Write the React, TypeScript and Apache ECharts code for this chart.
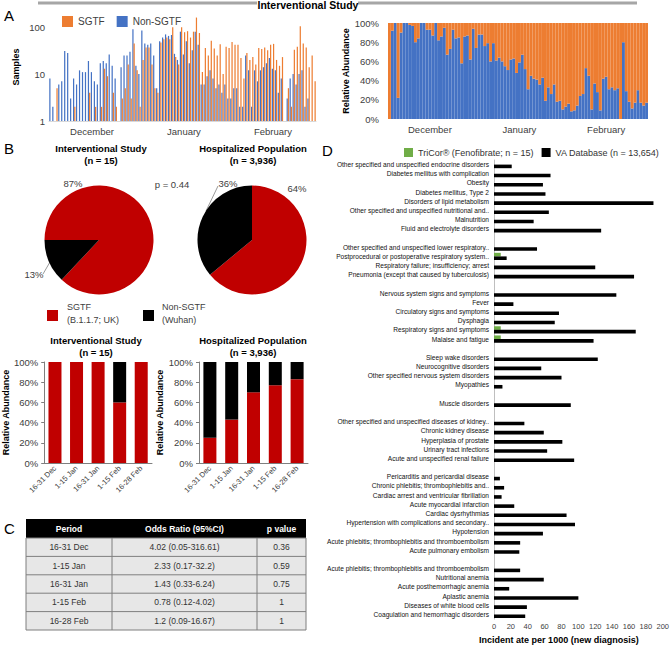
import React, { useEffect, useRef } from 'react';
import * as echarts from 'echarts';

// ---------- Panel A data ----------
const months = ['Dec', 'Jan', 'Feb'];
const monthDays = [31, 31, 28];
const monthTickLabels = ['December', 'January', 'February'];
const monthTickIndex = [14, 45, 75];

const nonSgtfDaily = [
  8, 2, 0, 6, 7, 31, 28, 3, 8, 6, 12, 11, 11, 19, 11, 7, 6, 17, 19, 17, 26, 15, 8, 0, 14, 25, 25, 30, 90, 15, 10,
  85, 45, 42, 45, 25, 5, 50, 60, 70, 65, 68, 27, 20, 80, 26, 50, 17, 32, 80, 42, 6, 6, 9, 12, 8, 5, 6, 4, 6, 3, 3,
  5, 5, 2, 2, 25, 12, 2, 12, 7, 12, 14, 17, 22, 13, 12, 4, 8, 0, 3, 8, 10, 6, 10, 12, 2, 3, 0, 0,
];
const sgtfDaily = [
  0, 0, 5, 0, 0, 0, 0, 0, 2, 0, 0, 0, 0, 4, 0, 2, 0, 2, 13, 9, 0, 4, 2, 0, 3, 5, 16, 3, 45, 12, 2,
  20, 37, 37, 16, 5, 4, 47, 55, 60, 55, 100, 23, 16, 100, 78, 82, 60, 80, 160, 75, 11, 36, 25, 51, 35, 25, 43, 10, 38, 36, 48,
  42, 42, 22, 8, 28, 20, 23, 16, 36, 34, 37, 32, 42, 44, 20, 15, 23, 0, 5, 2, 33, 38, 105, 45, 37, 14, 25, 7,
];
const nonSgtfPctDaily = [
  0, 92, 100, 22, 90, 100, 100, 98, 97, 80, 84, 100, 100, 93, 93, 87, 100, 82, 86, 95, 67, 73, 93, 84, 85, 58, 86, 87, 62, 94,
  74, 88, 88, 76, 79, 60, 79, 61, 64, 60, 55, 51, 62, 63, 48, 59, 67, 52, 31, 45, 42, 41, 36, 43, 19, 33, 26, 36, 18, 19,
  10, 13, 16, 8, 9, 14, 24, 26, 53, 45, 10, 37, 28, 9, 42, 44, 31, 33, 30, 32, 0, 80, 29, 18, 11, 17, 30, 17, 14, 17,
];

// ---------- Panel B data ----------
const interventionalPie = [87, 13]; // SGTF, Non-SGTF
const hospitalizedPie = [64, 36];
const pValueText = 'p = 0.44';
const periods = ['16-31 Dec', '1-15 Jan', '16-31 Jan', '1-15 Feb', '16-28 Feb'];
const interventionalSgtfPct = [100, 100, 100, 60, 100];
const hospitalizedSgtfPct = [25, 43, 70, 77, 83];

// ---------- Panel C data ----------
const tableHeader = ['Period', 'Odds Ratio (95%CI)', 'p value'];
const tablePeriods = ['16-31 Dec', '1-15 Jan', '16-31 Jan', '1-15 Feb', '16-28 Feb'];
const tableOdds = ['4.02 (0.05-316.61)', '2.33 (0.17-32.2)', '1.43 (0.33-6.24)', '0.78 (0.12-4.02)', '1.2 (0.09-16.67)'];
const tablePValues = ['0.36', '0.59', '0.75', '1', '1'];

// ---------- Panel D data ----------
const diagnoses = [
  'Other specified and unspecified endocrine disorders', 'Diabetes mellitus with complication', 'Obesity',
  'Diabetes mellitus, Type 2', 'Disorders of lipid metabolism', 'Other specified and unspecified nutritional and..',
  'Malnutrition', 'Fluid and electrolyte disorders', '',
  'Other specified and unspecified lower respiratory..', 'Postprocedural or postoperative respiratory system..',
  'Respiratory failure; insufficiency; arrest', 'Pneumonia (except that caused by tuberculosis)', '',
  'Nervous system signs and symptoms', 'Fever', 'Circulatory signs and symptoms', 'Dysphagia',
  'Respiratory signs and symptoms', 'Malaise and fatigue', '',
  'Sleep wake disorders', 'Neurocognitive disorders', 'Other specified nervous system disorders', 'Myopathies', '',
  'Muscle disorders', '',
  'Other specified and unspecified diseases of kidney..', 'Chronic kidney disease', 'Hyperplasia of prostate',
  'Urinary tract infections', 'Acute and unspecified renal failure', '',
  'Pericarditis and pericardial disease', 'Chronic phlebitis; thrombophlebitis and..',
  'Cardiac arrest and ventricular fibrillation', 'Acute myocardial infarction', 'Cardiac dysrhythmias',
  'Hypertension with complications and secondary..', 'Hypotension',
  'Acute phlebitis; thrombophlebitis and thromboembolism', 'Acute pulmonary embolism', '',
  'Acute phlebitis; thrombophlebitis and thromboembolism', 'Nutritional anemia', 'Acute posthemorrhagic anemia',
  'Aplastic anemia', 'Diseases of white blood cells', 'Coagulation and hemorrhagic disorders',
];
const vaRates = [
  21, 67, 58, 61, 189, 65, 47, 127, null,
  51, 15, 120, 166, null,
  145, 23, 77, 72, 168, 118, null,
  123, 56, 80, 10, null,
  91, null,
  36, 59, 81, 63, 95, null,
  7, 12, 9, 24, 86, 96, 58, 31, 30, null,
  31, 59, 18, 100, 39, 37,
];
const tricorRates = [
  null, null, null, null, null, null, null, null, null,
  null, 8, null, null, null,
  null, null, null, null, 8, 8, null,
  null, null, null, null, null,
  null, null,
  null, null, null, null, null, null,
  null, null, null, null, null, null, null, null, null, null,
  null, null, null, null, null, null,
];

const FONT = "'Liberation Sans', Arial, Helvetica, sans-serif";
const BLUE = '#4472C4';
const ORANGE = '#ED7D31';
const RED = '#C00000';
const GREEN = '#70AD47';
const TRICOR = 'TriCor® (Fenofibrate; n = 15)';
const VA = 'VA Database (n = 13,654)';

const dates: string[] = [];
months.forEach((m, i) => {
  for (let d = 1; d <= monthDays[i]; d++) dates.push(`${d} ${m}`);
});

const txt = (text: string, x: number, y: number, o: any = {}) => ({
  type: 'text',
  x,
  y,
  silent: true,
  style: {
    text,
    fill: o.fill || '#000',
    fontSize: o.size || 9,
    fontWeight: o.bold ? 'bold' : 'normal',
    fontFamily: FONT,
    align: o.align || 'center',
    verticalAlign: 'middle',
  },
});

function buildGraphic() {
  const g: any[] = [];
  // Top banner
  g.push({ type: 'line', shape: { x1: 38, y1: 3, x2: 257, y2: 3 }, style: { stroke: '#a6a6a6', lineWidth: 3 } });
  g.push({ type: 'line', shape: { x1: 358, y1: 3, x2: 637, y2: 3 }, style: { stroke: '#a6a6a6', lineWidth: 3 } });
  g.push(txt('Interventional Study', 308, 5, { bold: true, size: 10.5 }));
  // Panel letters
  g.push(txt('A', 4, 15, { size: 15, align: 'left' }));
  g.push(txt('B', 4, 148, { size: 15, align: 'left' }));
  g.push(txt('C', 4, 528, { size: 15, align: 'left' }));
  g.push(txt('D', 322, 150, { size: 15, align: 'left' }));
  // Pie titles
  g.push(txt('Interventional Study', 101, 148, { bold: true, size: 9.5 }));
  g.push(txt(`(n = 15)`, 101, 160, { bold: true, size: 9.5 }));
  g.push(txt('Hospitalized Population', 253, 148, { bold: true, size: 9.5 }));
  g.push(txt(`(n = 3,936)`, 253, 160, { bold: true, size: 9.5 }));
  g.push(txt(pValueText, 172, 184, { size: 9.5, fill: '#404040' }));
  // Pie labels
  g.push(txt(`${interventionalPie[0]}%`, 73, 183, { size: 9.5, fill: '#404040' }));
  g.push(txt(`${interventionalPie[1]}%`, 34, 274, { size: 9.5, fill: '#404040' }));
  g.push({ type: 'line', shape: { x1: 43, y1: 274, x2: 50, y2: 262 }, style: { stroke: '#808080', lineWidth: 0.8 } });
  g.push(txt(`${hospitalizedPie[1]}%`, 228, 183, { size: 9.5, fill: '#404040' }));
  g.push({ type: 'line', shape: { x1: 218, y1: 186, x2: 206, y2: 211 }, style: { stroke: '#808080', lineWidth: 0.8 } });
  g.push(txt(`${hospitalizedPie[0]}%`, 297, 188, { size: 9.5, fill: '#404040' }));
  // Legend B
  g.push({ type: 'rect', shape: { x: 47, y: 310, width: 11, height: 11 }, style: { fill: RED } });
  g.push(txt('SGTF', 67, 307, { size: 9, fill: '#404040', align: 'left' }));
  g.push(txt('(B.1.1.7; UK)', 67, 320, { size: 9, fill: '#404040', align: 'left' }));
  g.push({ type: 'rect', shape: { x: 143, y: 310, width: 11, height: 11 }, style: { fill: '#000' } });
  g.push(txt('Non-SGTF', 162, 307, { size: 9, fill: '#404040', align: 'left' }));
  g.push(txt('(Wuhan)', 162, 320, { size: 9, fill: '#404040', align: 'left' }));
  // Bar chart titles B
  g.push(txt('Interventional Study', 96, 340, { bold: true, size: 9.5 }));
  g.push(txt('(n = 15)', 96, 352, { bold: true, size: 9.5 }));
  g.push(txt('Hospitalized Population', 253, 340, { bold: true, size: 9.5 }));
  g.push(txt('(n = 3,936)', 253, 352, { bold: true, size: 9.5 }));
  // Table C
  const tx = 26, tw = 280, hy = 519, hh = 19, rh = 18.4;
  const colX = [26, 112, 257, 306];
  g.push({ type: 'rect', shape: { x: tx, y: hy, width: tw, height: hh }, style: { fill: '#000' } });
  const bodyTop = hy + hh;
  g.push({
    type: 'rect',
    shape: { x: tx, y: bodyTop, width: tw, height: rh * tablePeriods.length },
    style: { fill: '#E7E7E7', stroke: '#7f7f7f', lineWidth: 1 },
  });
  for (let i = 1; i < tablePeriods.length; i++) {
    const y = bodyTop + rh * i;
    g.push({ type: 'line', shape: { x1: tx, y1: y, x2: tx + tw, y2: y }, style: { stroke: '#7f7f7f', lineWidth: 1 } });
  }
  [colX[1], colX[2]].forEach((x) => {
    g.push({
      type: 'line',
      shape: { x1: x, y1: bodyTop, x2: x, y2: bodyTop + rh * tablePeriods.length },
      style: { stroke: '#7f7f7f', lineWidth: 1 },
    });
  });
  tableHeader.forEach((h, j) => {
    g.push(txt(h, (colX[j] + colX[j + 1]) / 2, hy + hh / 2, { bold: true, size: 8.5, fill: '#fff' }));
  });
  tablePeriods.forEach((p, i) => {
    const y = bodyTop + rh * i + rh / 2;
    const row = [p, tableOdds[i], tablePValues[i]];
    row.forEach((c, j) => g.push(txt(c, (colX[j] + colX[j + 1]) / 2, y, { size: 8.5, fill: '#333' })));
  });
  return g;
}

const labelStyle = { fontFamily: FONT, color: '#404040' };

function buildOption(): any {
  const pctB = (arr: number[]) => arr.map((v) => 100 - v);
  return {
    animation: false,
    textStyle: { fontFamily: FONT },
    grid: [
      { left: 49, top: 13, width: 267, height: 108 },
      { left: 388, top: 23, width: 260, height: 96 },
      { left: 43, top: 362, width: 109, height: 101 },
      { left: 199, top: 362, width: 109, height: 101 },
      { left: 494, top: 160, width: 169, height: 462 },
    ],
    legend: [
      {
        data: ['SGTF', 'Non-SGTF'],
        left: 57,
        top: 11,
        icon: 'rect',
        itemWidth: 11,
        itemHeight: 11,
        itemGap: 12,
        textStyle: { fontSize: 10, color: '#404040', fontFamily: FONT },
        selectedMode: false,
      },
      {
        data: [TRICOR, VA],
        left: 399,
        top: 143,
        icon: 'rect',
        itemWidth: 9,
        itemHeight: 9,
        itemGap: 8,
        textStyle: { fontSize: 9, color: '#333', fontFamily: FONT },
        selectedMode: false,
      },
    ],
    xAxis: [
      {
        gridIndex: 0,
        type: 'category',
        data: dates,
        axisLine: { lineStyle: { color: '#d9d9d9' } },
        axisTick: { show: false },
        axisLabel: {
          ...labelStyle,
          fontSize: 9.5,
          margin: 5,
          interval: (i: number) => monthTickIndex.includes(i),
          formatter: (_v: string, i: number) => {
            const k = monthTickIndex.indexOf(i);
            return k >= 0 ? monthTickLabels[k] : '';
          },
        },
      },
      {
        gridIndex: 1,
        type: 'category',
        data: dates,
        axisLine: { show: false },
        axisTick: { show: false },
        axisLabel: {
          ...labelStyle,
          fontSize: 9.5,
          margin: 5,
          interval: (i: number) => monthTickIndex.includes(i),
          formatter: (_v: string, i: number) => {
            const k = monthTickIndex.indexOf(i);
            return k >= 0 ? monthTickLabels[k] : '';
          },
        },
      },
      ...[2, 3].map((gi) => ({
        gridIndex: gi,
        type: 'category',
        data: periods,
        axisLine: { lineStyle: { color: '#7f7f7f' } },
        axisTick: { show: false },
        axisLabel: { ...labelStyle, fontSize: 7.5, rotate: 45, interval: 0, margin: 4 },
      })),
      {
        gridIndex: 4,
        type: 'value',
        min: 0,
        max: 200,
        interval: 20,
        axisLine: { show: false },
        axisTick: { show: false },
        splitLine: { show: false },
        axisLabel: { ...labelStyle, fontSize: 7.5, margin: 3 },
        name: 'Incident ate per 1000 (new diagnosis)',
        nameLocation: 'middle',
        nameGap: 14,
        nameTextStyle: { fontWeight: 'bold', fontSize: 9, color: '#000', fontFamily: FONT, padding: [0, 39, 0, 0] },
      },
    ],
    yAxis: [
      {
        gridIndex: 0,
        type: 'log',
        logBase: 10,
        min: 1,
        max: 200,
        axisLine: { show: false },
        axisTick: { show: false },
        splitLine: { show: false },
        axisLabel: {
          ...labelStyle,
          fontSize: 9.5,
          margin: 4,
          showMaxLabel: false,
          formatter: (v: number) => {
            const r = Math.round(v);
            return [1, 10, 100].includes(r) && Math.abs(v - r) < 1e-6 ? String(r) : '';
          },
        },
        name: 'Samples',
        nameLocation: 'middle',
        nameGap: 29,
        nameTextStyle: { fontWeight: 'bold', fontSize: 9, color: '#000', fontFamily: FONT },
      },
      {
        gridIndex: 1,
        type: 'value',
        min: 0,
        max: 100,
        interval: 20,
        axisLine: { show: false },
        axisTick: { show: false },
        splitLine: { show: false },
        axisLabel: { ...labelStyle, fontSize: 9.5, formatter: '{value}%', margin: 9 },
        name: 'Relative Abundance',
        nameLocation: 'middle',
        nameGap: 37,
        nameTextStyle: { fontWeight: 'bold', fontSize: 9, color: '#000', fontFamily: FONT },
      },
      ...[
        [2, 34],
        [3, 32],
      ].map(([gi, gap]) => ({
        gridIndex: gi,
        type: 'value',
        min: 0,
        max: 100,
        interval: 20,
        axisLine: { show: true, lineStyle: { color: '#7f7f7f' } },
        axisTick: { show: true, length: 3, lineStyle: { color: '#7f7f7f' } },
        splitLine: { show: false },
        axisLabel: { ...labelStyle, fontSize: 9.5, formatter: '{value}%', margin: 6 },
        name: 'Relative Abundance',
        nameLocation: 'middle',
        nameGap: gap,
        nameTextStyle: { fontWeight: 'bold', fontSize: 9, color: '#000', fontFamily: FONT },
      })),
      {
        gridIndex: 4,
        type: 'category',
        data: diagnoses,
        inverse: true,
        axisLine: { lineStyle: { color: '#bfbfbf' } },
        axisTick: { show: false },
        axisLabel: { fontFamily: FONT, color: '#111', fontSize: 6.6, interval: 0, margin: 5 },
      },
    ],
    series: [
      {
        type: 'bar',
        name: 'Non-SGTF',
        xAxisIndex: 0,
        yAxisIndex: 0,
        data: nonSgtfDaily.map((v) => (v > 0 ? v : '-')),
        itemStyle: { color: BLUE },
        barGap: '0%',
        barCategoryGap: '18%',
      },
      {
        type: 'bar',
        name: 'SGTF',
        xAxisIndex: 0,
        yAxisIndex: 0,
        data: sgtfDaily.map((v) => (v > 0 ? v : '-')),
        itemStyle: { color: ORANGE },
        barGap: '0%',
        barCategoryGap: '18%',
      },
      {
        type: 'bar',
        name: 'Non-SGTF share',
        xAxisIndex: 1,
        yAxisIndex: 1,
        stack: 'share',
        data: nonSgtfPctDaily,
        itemStyle: { color: BLUE },
        barCategoryGap: '0%',
      },
      {
        type: 'bar',
        name: 'SGTF share',
        xAxisIndex: 1,
        yAxisIndex: 1,
        stack: 'share',
        data: nonSgtfPctDaily.map((v) => 100 - v),
        itemStyle: { color: ORANGE },
        barCategoryGap: '0%',
      },
      {
        type: 'bar',
        name: 'B int SGTF',
        xAxisIndex: 2,
        yAxisIndex: 2,
        stack: 'bi',
        barWidth: 13,
        data: interventionalSgtfPct,
        itemStyle: { color: RED },
      },
      {
        type: 'bar',
        name: 'B int Non-SGTF',
        xAxisIndex: 2,
        yAxisIndex: 2,
        stack: 'bi',
        barWidth: 13,
        data: pctB(interventionalSgtfPct),
        itemStyle: { color: '#000' },
      },
      {
        type: 'bar',
        name: 'B hosp SGTF',
        xAxisIndex: 3,
        yAxisIndex: 3,
        stack: 'bh',
        barWidth: 13,
        data: hospitalizedSgtfPct,
        itemStyle: { color: RED },
      },
      {
        type: 'bar',
        name: 'B hosp Non-SGTF',
        xAxisIndex: 3,
        yAxisIndex: 3,
        stack: 'bh',
        barWidth: 13,
        data: pctB(hospitalizedSgtfPct),
        itemStyle: { color: '#000' },
      },
      {
        type: 'pie',
        name: 'pie int',
        center: [99, 240],
        radius: 54.5,
        startAngle: 180,
        clockwise: true,
        label: { show: false },
        labelLine: { show: false },
        emphasis: { disabled: true },
        data: [
          { name: 'Pie SGTF int', value: interventionalPie[0], itemStyle: { color: RED } },
          { name: 'Pie Non int', value: interventionalPie[1], itemStyle: { color: '#000' } },
        ],
      },
      {
        type: 'pie',
        name: 'pie hosp',
        center: [252, 240],
        radius: 54.5,
        startAngle: 90,
        clockwise: true,
        label: { show: false },
        labelLine: { show: false },
        emphasis: { disabled: true },
        data: [
          { name: 'Pie SGTF hosp', value: hospitalizedPie[0], itemStyle: { color: RED } },
          { name: 'Pie Non hosp', value: hospitalizedPie[1], itemStyle: { color: '#000' } },
        ],
      },
      {
        type: 'bar',
        name: TRICOR,
        xAxisIndex: 4,
        yAxisIndex: 4,
        data: tricorRates.map((v) => (v == null ? '-' : v)),
        itemStyle: { color: GREEN },
        barWidth: 3.6,
        barGap: '0%',
      },
      {
        type: 'bar',
        name: VA,
        xAxisIndex: 4,
        yAxisIndex: 4,
        data: vaRates.map((v) => (v == null ? '-' : v)),
        itemStyle: { color: '#000' },
        barWidth: 3.6,
        barGap: '0%',
      },
    ],
    graphic: buildGraphic(),
  };
}

export default function App() {
  const ref = useRef<HTMLDivElement>(null);
  useEffect(() => {
    if (!ref.current) return;
    const chart = echarts.init(ref.current, null, { renderer: 'svg' });
    chart.setOption(buildOption());
    return () => chart.dispose();
  }, []);
  return (
    <div
      ref={ref}
      style={{ position: 'fixed', left: 0, top: 0, width: 672, height: 649, background: '#fff' }}
    />
  );
}
